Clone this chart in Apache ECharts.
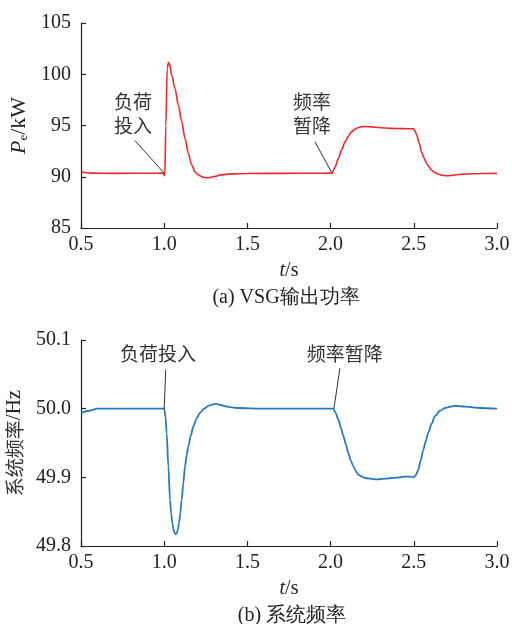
<!DOCTYPE html>
<html><head><meta charset="utf-8">
<script src="https://cdn.jsdelivr.net/npm/echarts@6/dist/echarts.min.js"></script>
<style>html,body{margin:0;padding:0;background:#fff}#c{width:512px;height:624px}</style>
</head><body><div id="c"></div>
<script>
// ---- data ----
const tP = [0.50,0.52,0.56,0.70,0.90,0.995,1.000,1.004,1.010,1.018,1.026,1.032,1.045,1.065,1.085,1.105,1.125,1.145,1.165,1.185,1.200,1.215,1.235,1.255,1.275,1.300,1.340,1.400,1.500,1.700,1.900,2.000,2.007,2.027,2.047,2.067,2.087,2.107,2.127,2.147,2.167,2.187,2.207,2.250,2.287,2.330,2.367,2.430,2.497,2.507,2.517,2.532,2.547,2.562,2.577,2.592,2.607,2.627,2.647,2.672,2.697,2.720,2.747,2.800,2.900,3.000];
const vP = [90.50,90.42,90.35,90.33,90.34,90.35,90.10,90.20,95.00,100.60,101.15,101.00,99.90,98.60,97.00,95.40,93.75,92.30,91.15,90.50,90.25,90.10,89.95,89.90,89.92,90.02,90.18,90.28,90.32,90.33,90.34,90.35,90.30,90.95,91.80,92.65,93.40,93.95,94.40,94.65,94.80,94.88,94.90,94.87,94.80,94.75,94.72,94.70,94.68,94.50,94.10,93.30,92.40,91.80,91.30,90.95,90.66,90.40,90.24,90.14,90.10,90.12,90.17,90.26,90.32,90.33];

const tF = [0.50,0.55,0.60,0.70,0.90,1.000,1.008,1.015,1.025,1.035,1.042,1.049,1.055,1.062,1.069,1.076,1.083,1.089,1.097,1.105,1.115,1.125,1.135,1.145,1.160,1.175,1.195,1.215,1.240,1.265,1.290,1.315,1.345,1.375,1.440,1.600,1.800,2.000,2.016,2.030,2.047,2.062,2.077,2.092,2.107,2.122,2.137,2.152,2.167,2.187,2.207,2.267,2.330,2.367,2.420,2.447,2.480,2.497,2.512,2.527,2.542,2.557,2.572,2.587,2.607,2.627,2.657,2.687,2.747,2.810,2.900,3.000];
const vF = [49.994,49.997,50.000,50.000,50.000,50.000,49.988,49.964,49.916,49.867,49.847,49.833,49.825,49.819,49.817,49.819,49.825,49.833,49.848,49.867,49.892,49.916,49.932,49.945,49.961,49.974,49.986,49.994,50.000,50.004,50.006,50.007,50.005,50.003,50.001,50.000,50.000,50.000,50.000,49.994,49.984,49.972,49.960,49.948,49.935,49.924,49.916,49.909,49.904,49.901,49.899,49.897,49.898,49.899,49.900,49.901,49.901,49.900,49.903,49.911,49.925,49.940,49.953,49.965,49.978,49.989,49.997,50.001,50.004,50.003,50.001,50.000];

const xTicks = [0.5,1.0,1.5,2.0,2.5,3.0];
const yTicksP = [85,90,95,100,105];
const yTicksF = [49.8,49.9,50.0,50.1];

const pairs = (t, v) => t.map((x, i) => [x, v[i]]);
const SERIF = '"Liberation Serif","Times New Roman",serif';
const CJK = '"Noto Sans CJK SC",sans-serif';
const INK = '#222';

function xAxisCfg(gi) {
  return {
    gridIndex: gi, type: 'value', min: xTicks[0], max: xTicks[xTicks.length-1], interval: 0.5,
    axisLine: {show: true, onZero: false, lineStyle: {color: INK, width: 1.2}},
    axisTick: {show: true, inside: true, length: 5, lineStyle: {color: INK, width: 1.2}},
    axisLabel: {color: INK, fontFamily: SERIF, fontSize: 20, margin: 7, formatter: v => v.toFixed(1)},
    splitLine: {show: false},
    name: '{i|t}/s', nameLocation: 'middle', nameGap: 33,
    nameTextStyle: {color: INK, fontFamily: SERIF, fontSize: 20,
      rich: {i: {fontStyle: 'italic', fontFamily: SERIF, fontSize: 20, color: INK}}}
  };
}
function yAxisCfg(gi, ticks, dec, name, nameGap, rich) {
  return {
    gridIndex: gi, type: 'value', min: ticks[0], max: ticks[ticks.length-1],
    interval: +(ticks[1]-ticks[0]).toFixed(6),
    axisLine: {show: true, onZero: false, lineStyle: {color: INK, width: 1.2}},
    axisTick: {show: true, inside: true, length: 5, lineStyle: {color: INK, width: 1.2}},
    axisLabel: {color: INK, fontFamily: SERIF, fontSize: 20, margin: 10, formatter: v => v.toFixed(dec)},
    splitLine: {show: false},
    name: name, nameLocation: 'middle', nameGap: nameGap, nameRotate: 90,
    nameTextStyle: Object.assign({color: INK, fontSize: 20}, rich)
  };
}

const chart = echarts.init(document.getElementById('c'), null, {renderer: 'canvas'});
chart.setOption({
  animation: false,
  backgroundColor: '#fff',
  grid: [
    {left: 81, top: 23, width: 416, height: 205, containLabel: false, outerBoundsMode: 'none'},
    {left: 81, top: 340, width: 416, height: 206, containLabel: false, outerBoundsMode: 'none'}
  ],
  xAxis: [xAxisCfg(0), xAxisCfg(1)],
  yAxis: [
    yAxisCfg(0, yTicksP, 0, '{i|P}{s|e}{n|/kW}', 44, {fontFamily: SERIF,
      rich: {i: {fontStyle: 'italic', fontFamily: SERIF, fontSize: 22, color: INK},
             s: {fontFamily: SERIF, fontSize: 13, color: INK, verticalAlign: 'bottom', padding: [8,0,0,0]},
             n: {fontFamily: SERIF, fontSize: 22, color: INK}}}),
    yAxisCfg(1, yTicksF, 1, '{c|系统频率}{n|/Hz}', 55, {fontFamily: CJK,
      rich: {c: {fontFamily: CJK, fontSize: 19, color: '#333'},
             n: {fontFamily: SERIF, fontSize: 21, color: INK}}})
  ],
  title: [
    {text: '(a) VSG输出功率', left: 281, top: 283, textAlign: 'center',
     textStyle: {fontFamily: SERIF, fontSize: 20, fontWeight: 'normal', color: INK}},
    {text: '(b) 系统频率', left: 287, top: 601, textAlign: 'center',
     textStyle: {fontFamily: SERIF, fontSize: 20, fontWeight: 'normal', color: INK}}
  ],
  series: [
    {type: 'line', xAxisIndex: 0, yAxisIndex: 0, data: pairs(tP, vP), showSymbol: false,
     smooth: 0.3, smoothMonotone: 'x',
     lineStyle: {color: '#f0262a', width: 1.6}, itemStyle: {color: '#f0262a'}},
    {type: 'line', xAxisIndex: 1, yAxisIndex: 1, data: pairs(tF, vF), showSymbol: false,
     smooth: 0.3, smoothMonotone: 'x',
     lineStyle: {color: '#2a79bd', width: 1.8}, itemStyle: {color: '#2a79bd'}}
  ]
});

// annotation anchors (data coords)
const notes = [
  {g: 0, text: '负荷\n投入', at: [0.8125, 96.1], from: [0.8245, 93.52], to: [1.0, 90.35]},
  {g: 0, text: '频率\n暂降', at: [1.888, 96.1], from: [1.906, 93.42], to: [2.007, 90.4]},
  {g: 1, text: '负荷投入', at: [0.963, 50.080], from: [1.009, 50.057], to: [1.0, 50.0]},
  {g: 1, text: '频率暂降', at: [2.085, 50.080], from: [2.056, 50.059], to: [2.02, 50.0]}
];
const gfx = [];
notes.forEach(n => {
  const p = chart.convertToPixel({gridIndex: n.g}, n.at);
  const a = chart.convertToPixel({gridIndex: n.g}, n.from);
  const b = chart.convertToPixel({gridIndex: n.g}, n.to);
  gfx.push({type: 'text', x: p[0], y: p[1], z: 10,
    style: {text: n.text, fontFamily: CJK, fontSize: 19, fill: '#333', align: 'center', verticalAlign: 'middle', lineHeight: 24}});
  gfx.push({type: 'line', z: 10, shape: {x1: a[0], y1: a[1], x2: b[0], y2: b[1]},
    style: {stroke: '#333', lineWidth: 1}});
});
chart.setOption({graphic: gfx});
</script></body></html>
